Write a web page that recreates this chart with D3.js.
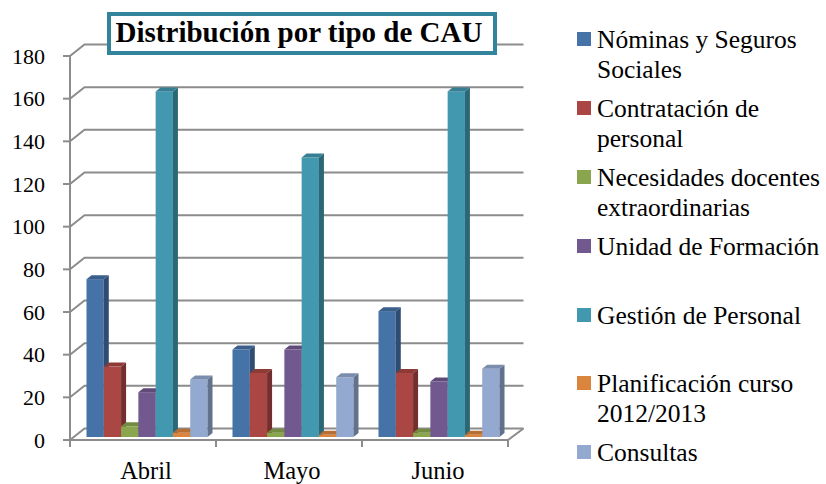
<!DOCTYPE html>
<html>
<head>
<meta charset="utf-8">
<script src="https://cdn.jsdelivr.net/npm/d3@7"></script>
<style>
  body { margin: 0; background: #fff; }
</style>
</head>
<body>
<div id="chart"></div>
<script>
// Data
var months = ["Abril", "Mayo", "Junio"];
var seriesNames = ["Nóminas y Seguros Sociales", "Contratación de personal",
  "Necesidades docentes extraordinarias", "Unidad de Formación",
  "Gestión de Personal", "Planificación curso 2012/2013", "Consultas"];
var nominas = [74, 41, 59];
var contratacion = [33, 30, 30];
var necesidades = [5, 2, 2];
var formacion = [21, 41, 26];
var gestion = [162, 131, 162];
var planificacion = [2, 1, 1];
var consultas = [27, 28, 32];
var yTicks = [0, 20, 40, 60, 80, 100, 120, 140, 160, 180];
// legend lines (wrapped as in the picture)
var legendLines = [["Nóminas y Seguros", "Sociales"], ["Contratación de", "personal"],
  ["Necesidades docentes", "extraordinarias"], ["Unidad de Formación"],
  ["Gestión de Personal"], ["Planificación curso", "2012/2013"], ["Consultas"]];

var allValues = [nominas, contratacion, necesidades, formacion, gestion, planificacion, consultas];
var colors = ["#4572a7", "#aa4643", "#89a54e", "#71588f", "#4198af", "#db843d", "#93a9cf"];

var svgWidth = 826, svgHeight = 484;
var serif = "'Liberation Serif', 'DejaVu Serif', 'Times New Roman', serif";

// 3D depth offsets
var wallDx = 14.5, wallDy = -11.5;   // back wall
var barDx = 4, barDy = -3;           // bar front plane
var barDepthX = 5, barDepthY = -4;   // bar thickness

var svg = d3.select("#chart").append("svg")
  .attr("width", svgWidth)
  .attr("height", svgHeight)
  .attr("font-family", serif)
  .style("font-family", serif);

var x0 = d3.scaleBand().domain(months).range([70, 508]);
var x1 = d3.scaleBand().domain(d3.range(seriesNames.length))
  .range([12.5, x0.bandwidth() - 12.5]);
var y = d3.scaleLinear().domain([0, 180]).range([440, 56]);

var gridColor = "#8c8c8c";

// gridlines: side diagonal + back wall line
var grid = svg.append("g");
yTicks.forEach(function(t) {
  grid.append("path")
    .attr("d", `M70,${y(t)} L${70 + wallDx},${y(t) + wallDy} L${508 + wallDx + 1},${y(t) + wallDy}`)
    .attr("fill", "none")
    .attr("stroke", gridColor)
    .attr("stroke-width", 2);
});

// floor
grid.append("path")
  .attr("d", `M70,${y(0)} L508,${y(0)} L${508 + wallDx + 1},${y(0) + wallDy}`)
  .attr("fill", "none")
  .attr("stroke", gridColor)
  .attr("stroke-width", 2);

// left axis
grid.append("line")
  .attr("x1", 70).attr("x2", 70)
  .attr("y1", y(180)).attr("y2", y(0) + 7)
  .attr("stroke", gridColor).attr("stroke-width", 2);

yTicks.forEach(function(t) {
  grid.append("line")
    .attr("x1", 63).attr("x2", 70)
    .attr("y1", y(t)).attr("y2", y(t))
    .attr("stroke", gridColor).attr("stroke-width", 2);
});

// category ticks
x0.domain().concat(["end"]).forEach(function(m, i) {
  var xx = i < months.length ? x0(m) : x0.range()[1];
  grid.append("line")
    .attr("x1", xx).attr("x2", xx)
    .attr("y1", y(0)).attr("y2", y(0) + 7)
    .attr("stroke", gridColor).attr("stroke-width", 2);
});

// y tick labels
svg.append("g").selectAll("text")
  .data(yTicks)
  .enter()
  .append("text")
  .attr("x", 45)
  .attr("y", d => y(d) + 7.5)
  .attr("text-anchor", "end")
  .style("font-family", serif)
  .style("font-size", "22px")
  .text(d => d);

// x labels
svg.append("g").selectAll("text")
  .data(months)
  .enter()
  .append("text")
  .attr("x", d => x0(d) + x0.bandwidth() / 2 + 3)
  .attr("y", 479)
  .attr("text-anchor", "middle")
  .style("font-family", serif)
  .style("font-size", "24.5px")
  .text(d => d);

// bars
var bars = svg.append("g");
months.forEach(function(m, mi) {
  allValues.forEach(function(vals, si) {
    var v = vals[mi];
    var xl = x0(m) + x1(si) + barDx;
    var w = x1.bandwidth();
    var yb = y(0) + barDy;
    var yt = y(v) + barDy;
    var c = d3.color(colors[si]);
    // front
    bars.append("rect")
      .attr("x", xl).attr("y", yt)
      .attr("width", w).attr("height", yb - yt)
      .attr("fill", c.formatHex());
    // side
    bars.append("path")
      .attr("d", `M${xl + w},${yb} L${xl + w + barDepthX},${yb + barDepthY} L${xl + w + barDepthX},${yt + barDepthY} L${xl + w},${yt} Z`)
      .attr("fill", c.darker(1.1).formatHex());
    // top
    bars.append("path")
      .attr("d", `M${xl},${yt} L${xl + barDepthX},${yt + barDepthY} L${xl + w + barDepthX},${yt + barDepthY} L${xl + w},${yt} Z`)
      .attr("fill", c.darker(0.5).formatHex());
  });
});

// title
svg.append("rect")
  .attr("x", 109).attr("y", 14)
  .attr("width", 386).attr("height", 39)
  .attr("fill", "#fff")
  .attr("stroke", "#31849b")
  .attr("stroke-width", 4);

svg.append("text")
  .attr("x", 299)
  .attr("y", 42)
  .attr("text-anchor", "middle")
  .style("font-family", serif)
  .style("font-size", "29px")
  .style("font-weight", "bold")
  .text("Distribución por tipo de CAU");

// legend
var legendY = [39, 108, 177, 246, 315, 383, 452];
var legend = svg.append("g");
legendLines.forEach(function(lines, i) {
  legend.append("rect")
    .attr("x", 577).attr("y", legendY[i] - 7)
    .attr("width", 14).attr("height", 14)
    .attr("fill", colors[i]);
  lines.forEach(function(line, li) {
    legend.append("text")
      .attr("x", 597)
      .attr("y", legendY[i] + 9 + li * 30)
      .style("font-family", serif)
      .style("font-size", "25.5px")
      .text(line);
  });
});
</script>
</body>
</html>
